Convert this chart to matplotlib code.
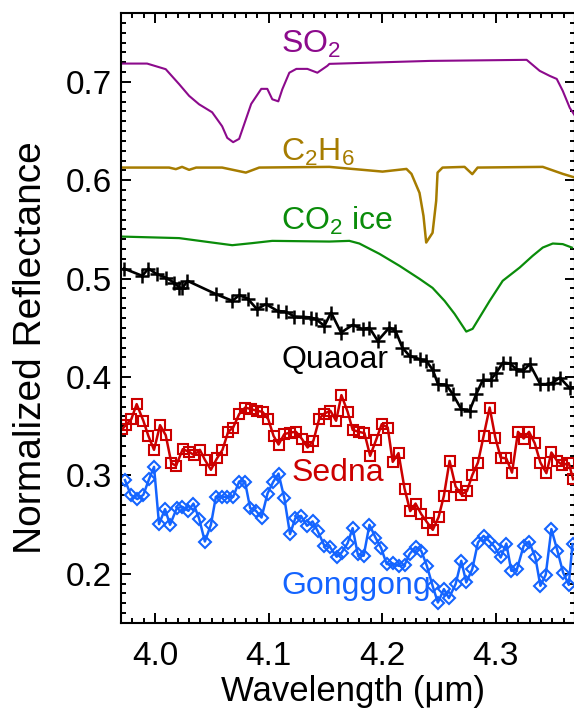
import matplotlib
matplotlib.use('Agg')
import matplotlib.pyplot as plt
from matplotlib.ticker import MultipleLocator

# model spectra (lines only)
so2_wl = [3.969, 3.993, 4.0094, 4.0212, 4.030, 4.0388, 4.0503, 4.0591, 4.0636, 4.0688,
          4.0741, 4.0847, 4.0936, 4.0989, 4.1033, 4.1086, 4.1121, 4.1183, 4.1245, 4.1342,
          4.1430, 4.1518, 4.1536, 4.1827, 4.2418, 4.3274, 4.3389, 4.3477, 4.3539, 4.3592,
          4.3654, 4.370]
so2_refl = [0.7186, 0.7186, 0.7129, 0.6977, 0.6858, 0.6772, 0.6691, 0.6549, 0.6431, 0.6387,
            0.6421, 0.6776, 0.6929, 0.6929, 0.6823, 0.6802, 0.6924, 0.7093, 0.7132, 0.7132,
            0.7093, 0.7163, 0.7183, 0.7193, 0.7213, 0.7224, 0.7112, 0.7061, 0.7030, 0.6909,
            0.6736, 0.6655]

c2h6_wl = [3.969, 4.0124, 4.0183, 4.0238, 4.030, 4.0362, 4.0591, 4.080, 4.0918, 4.1536,
           4.2004, 4.2215, 4.2259, 4.2330, 4.2365, 4.2389, 4.2445, 4.2477, 4.2489, 4.2533,
           4.2727, 4.2795, 4.2842, 4.3416, 4.3592, 4.370]
c2h6_refl = [0.6129, 0.6129, 0.6113, 0.6136, 0.6106, 0.6129, 0.6129, 0.6078, 0.6129, 0.6136,
             0.6088, 0.6115, 0.6065, 0.5872, 0.5638, 0.5367, 0.5466, 0.5791, 0.6078, 0.6129,
             0.6136, 0.6062, 0.6129, 0.6136, 0.6065, 0.6027]

co2_wl = [3.969, 4.0212, 4.0503, 4.068, 4.0856, 4.1033, 4.1536, 4.1712, 4.180, 4.1977,
          4.2154, 4.2330, 4.2445, 4.2551, 4.2639, 4.2742, 4.2798, 4.2948, 4.3063, 4.3213,
          4.3327, 4.3416, 4.3504, 4.3592, 4.3672]
co2_refl = [0.5428, 0.5412, 0.5367, 0.5340, 0.5361, 0.5384, 0.5377, 0.5384, 0.5357, 0.5252,
            0.5130, 0.4998, 0.4906, 0.4774, 0.4642, 0.4462, 0.4490, 0.4774, 0.4978, 0.5113,
            0.5232, 0.5316, 0.5357, 0.5351, 0.5316]

# observed spectra (markers + lines)
quaoar_wl = [3.9726, 3.9888, 3.9941, 4.0015, 4.0094, 4.0168, 4.0212, 4.0241, 4.0285, 4.0536,
             4.0682, 4.0741, 4.0815, 4.0898, 4.0977, 4.1079, 4.1154, 4.1227, 4.1300, 4.1374,
             4.1418, 4.1492, 4.1551, 4.1639, 4.1741, 4.1830, 4.1889, 4.1962, 4.2065, 4.2118,
             4.2180, 4.2242, 4.2330, 4.2389, 4.2447, 4.2493, 4.2566, 4.2621, 4.2698, 4.2771,
             4.2831, 4.2889, 4.2957, 4.3007, 4.3065, 4.3124, 4.3184, 4.3242, 4.3301, 4.3394,
             4.3462, 4.3507, 4.3566, 4.3654]
quaoar_refl = [0.5103, 0.5028, 0.5103, 0.5046, 0.5011, 0.4960, 0.4910, 0.4903, 0.4978, 0.4843,
               0.4774, 0.4832, 0.4798, 0.4690, 0.4741, 0.4672, 0.4663, 0.4615, 0.4612, 0.4605,
               0.4588, 0.4520, 0.4655, 0.4452, 0.4530, 0.4487, 0.4500, 0.4368, 0.4503, 0.4470,
               0.4297, 0.4215, 0.4182, 0.4165, 0.4073, 0.3928, 0.3921, 0.3829, 0.3674, 0.3657,
               0.3829, 0.3972, 0.3972, 0.4043, 0.4147, 0.4139, 0.4080, 0.4063, 0.4131, 0.3928,
               0.3928, 0.3944, 0.3995, 0.3885]

sedna_wl = [3.9711, 3.9741, 3.9791, 3.9838, 3.9897, 3.9941, 3.9991, 4.0044, 4.0094, 4.0144,
            4.0185, 4.0244, 4.0300, 4.0344, 4.0395, 4.0439, 4.0492, 4.0545, 4.0594, 4.0644,
            4.0688, 4.0741, 4.0794, 4.0845, 4.0898, 4.0947, 4.0997, 4.1044, 4.1088, 4.1139,
            4.1192, 4.1242, 4.1295, 4.1344, 4.1395, 4.1447, 4.1492, 4.1545, 4.1595, 4.1642,
            4.1697, 4.1741, 4.1794, 4.1845, 4.1895, 4.1948, 4.1997, 4.2050, 4.2094, 4.2145,
            4.2198, 4.2248, 4.2295, 4.2345, 4.2398, 4.2447, 4.2498, 4.2545, 4.2595, 4.2648,
            4.2698, 4.2748, 4.2795, 4.2845, 4.2895, 4.2948, 4.2998, 4.3045, 4.3095, 4.3145,
            4.3198, 4.3248, 4.3295, 4.3345, 4.3395, 4.3448, 4.3492, 4.3542, 4.3589, 4.3645,
            4.3683]
sedna_refl = [0.3471, 0.3511, 0.3572, 0.3725, 0.3555, 0.3402, 0.3260, 0.3511, 0.3409, 0.3125,
              0.3098, 0.3267, 0.3240, 0.3206, 0.3260, 0.3159, 0.3057, 0.3172, 0.3260, 0.3443,
              0.3487, 0.3623, 0.3690, 0.3674, 0.3657, 0.3646, 0.3572, 0.3402, 0.3314, 0.3420,
              0.3436, 0.3443, 0.3369, 0.3284, 0.3352, 0.3578, 0.3629, 0.3657, 0.3555, 0.3816,
              0.3646, 0.3463, 0.3443, 0.3430, 0.3199, 0.3362, 0.3521, 0.3487, 0.3138, 0.3227,
              0.2867, 0.2637, 0.2714, 0.2607, 0.2521, 0.2447, 0.2576, 0.2793, 0.3148, 0.2887,
              0.2806, 0.2840, 0.3003, 0.3131, 0.3402, 0.3690, 0.3385, 0.3182, 0.3172, 0.3029,
              0.3443, 0.3375, 0.3443, 0.3328, 0.3131, 0.3023, 0.3233, 0.3148, 0.3105, 0.3125,
              0.2962]

gonggong_wl = [3.9735, 3.9786, 3.9844, 3.9897, 3.9947, 3.9991, 4.0035, 4.0088, 4.0132, 4.0192,
               4.0241, 4.0294, 4.0338, 4.0388, 4.0439, 4.0492, 4.0536, 4.0589, 4.0638, 4.0688,
               4.0741, 4.0792, 4.0838, 4.0889, 4.0938, 4.0991, 4.1041, 4.1088, 4.1139, 4.1189,
               4.1236, 4.1286, 4.1339, 4.1388, 4.1432, 4.1492, 4.1540, 4.1600, 4.1644, 4.1697,
               4.1741, 4.1786, 4.1838, 4.1889, 4.1942, 4.1992, 4.2041, 4.2094, 4.2147, 4.2198,
               4.2242, 4.2295, 4.2345, 4.2395, 4.2447, 4.2492, 4.2545, 4.2589, 4.2648, 4.2698,
               4.2742, 4.2795, 4.2845, 4.2895, 4.2942, 4.2992, 4.3045, 4.3095, 4.3139, 4.3189,
               4.3248, 4.3295, 4.3351, 4.3395, 4.3442, 4.3492, 4.3545, 4.3595, 4.3645, 4.3678]
gonggong_refl = [0.2952, 0.2803, 0.2759, 0.2803, 0.2962, 0.3087, 0.2505, 0.2658, 0.2498, 0.2668,
                 0.2681, 0.2640, 0.2714, 0.2562, 0.2328, 0.2498, 0.2783, 0.2783, 0.2783, 0.2783,
                 0.2938, 0.2938, 0.2668, 0.2640, 0.2572, 0.2816, 0.2935, 0.3019, 0.2769, 0.2403,
                 0.2566, 0.2589, 0.2488, 0.2532, 0.2437, 0.2285, 0.2274, 0.2173, 0.2216, 0.2312,
                 0.2464, 0.2200, 0.2183, 0.2498, 0.2369, 0.2261, 0.2099, 0.2105, 0.2081, 0.2088,
                 0.2200, 0.2274, 0.2234, 0.2081, 0.1871, 0.1708, 0.1845, 0.1753, 0.1895, 0.2132,
                 0.1912, 0.2048, 0.2318, 0.2386, 0.2335, 0.2274, 0.2166, 0.2308, 0.2030, 0.2048,
                 0.2285, 0.2328, 0.2166, 0.1878, 0.1990, 0.2454, 0.2234, 0.2013, 0.1888, 0.2302]

# label text, anchor (wavelength, reflectance) and colour
labels = ['SO$_2$', 'C$_2$H$_6$', 'CO$_2$ ice', 'Quaoar', 'Sedna', 'Gonggong']
label_x = [4.111, 4.111, 4.111, 4.111, 4.120, 4.111]
label_y = [0.7295, 0.6200, 0.5500, 0.4094, 0.2945, 0.1797]

c_so2 = '#8C0A8C'
c_c2h6 = '#A67C00'
c_co2 = '#0A8C0A'
c_quaoar = 'black'
c_sedna = '#CC0000'
c_gong = '#1464FF'
label_colors = [c_so2, c_c2h6, c_co2, c_quaoar, c_sedna, c_gong]

plt.rcParams['font.family'] = ['Liberation Sans', 'DejaVu Sans']
plt.rcParams['mathtext.fontset'] = 'custom'
plt.rcParams['mathtext.rm'] = 'Liberation Sans'
plt.rcParams['mathtext.it'] = 'Liberation Sans:italic'

fig = plt.figure(figsize=(5.74, 7.08), dpi=100)
ax = fig.add_axes([121 / 574, 1 - 623 / 708, 454 / 574, 610 / 708])

ax.plot(so2_wl, so2_refl, color=c_so2, lw=1.5)
ax.plot(c2h6_wl, c2h6_refl, color=c_c2h6, lw=1.8)
ax.plot(co2_wl, co2_refl, color=c_co2, lw=1.6)
ax.plot(quaoar_wl, quaoar_refl, color=c_quaoar, lw=1.9, marker='+',
        ms=10.5, mew=1.8)
ax.plot(sedna_wl, sedna_refl, color=c_sedna, lw=1.8, marker='s',
        ms=6.5, mew=1.5, mfc='none')
ax.plot(gonggong_wl, gonggong_refl, color=c_gong, lw=1.8, marker='D',
        ms=6.3, mew=1.5, mfc='none')

for txt, x, y, c in zip(labels, label_x, label_y, label_colors):
    ax.text(x, y, txt, color=c, fontsize=23, ha='left', va='baseline')

ax.set_xlim(3.97, 4.37)
ax.set_ylim(0.15, 0.77)

ax.xaxis.set_major_locator(MultipleLocator(0.1))
ax.xaxis.set_minor_locator(MultipleLocator(0.01))
ax.yaxis.set_major_locator(MultipleLocator(0.1))
ax.yaxis.set_minor_locator(MultipleLocator(0.01))
ax.xaxis.set_major_formatter(matplotlib.ticker.FormatStrFormatter('%.1f'))
ax.yaxis.set_major_formatter(matplotlib.ticker.FormatStrFormatter('%.1f'))

ax.tick_params(which='both', direction='in', top=True, right=True, width=1.4)
ax.tick_params(which='major', length=7.5, labelsize=24)
ax.tick_params(which='minor', length=3.6)
ax.tick_params(axis='x', pad=13)
ax.tick_params(axis='y', pad=6.5)
for s in ax.spines.values():
    s.set_linewidth(1.5)

ax.set_xlabel('Wavelength (\u03bcm)', fontsize=25)
ax.set_ylabel('Normalized Reflectance', fontsize=28)
ax.xaxis.set_label_coords(0.512, -0.086)
ax.yaxis.set_label_coords(-0.159, 0.452)

fig.savefig('out.png', dpi=100)
